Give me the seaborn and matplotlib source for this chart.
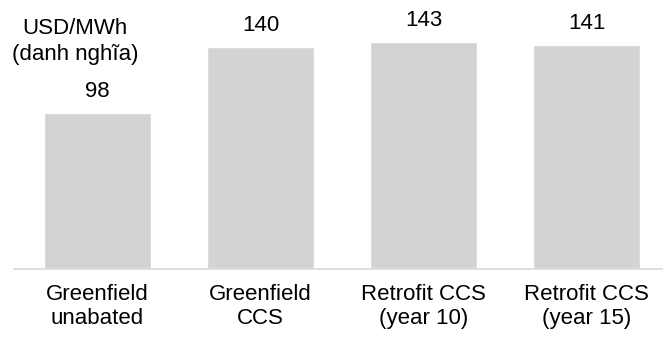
import matplotlib
matplotlib.use("Agg")
import matplotlib.pyplot as plt
import seaborn as sns
import pandas as pd

categories = ["Greenfield\nunabated", "Greenfield\nCCS", "Retrofit CCS\n(year 10)", "Retrofit CCS\n(year 15)"]
values = [98, 140, 143, 141]
unit_label = "USD/MWh\n(danh nghĩa)"

sns.set_theme(style="white")
plt.rcParams["font.family"] = ["Liberation Sans", "DejaVu Sans"]

df = pd.DataFrame({"category": categories, "value": values})

W, H = 663, 341
fig = plt.figure(figsize=(W / 100, H / 100), dpi=100)
# axes: baseline at y=269 px, spanning from x=14 px to the right edge
ax = fig.add_axes([14 / W, 1 - 269 / H, 649 / W, 260 / H])

sns.barplot(data=df, x="category", y="value", color="#d3d3d3", saturation=1,
            width=0.66, ax=ax)
ax.set_xlim(-0.512, 3.469)
ax.set_ylim(0, 260 / 1.587)

for c in ax.containers:
    ax.bar_label(c, fmt="%d", padding=8, fontsize=16, color="#000000")

ax.set_xlabel("")
ax.set_ylabel("")
ax.set_yticks([])
ax.tick_params(axis="x", length=0, pad=11, labelsize=16, colors="#000000")
for s in ["top", "right", "left"]:
    ax.spines[s].set_visible(False)
ax.spines["bottom"].set_color("#d9d9d9")
ax.spines["bottom"].set_linewidth(1.2)

fig.text(75 / W, 1 - 18 / H, unit_label, ha="center", va="top",
         fontsize=16, color="#000000", linespacing=1.3)

fig.savefig("out.png", dpi=100)
